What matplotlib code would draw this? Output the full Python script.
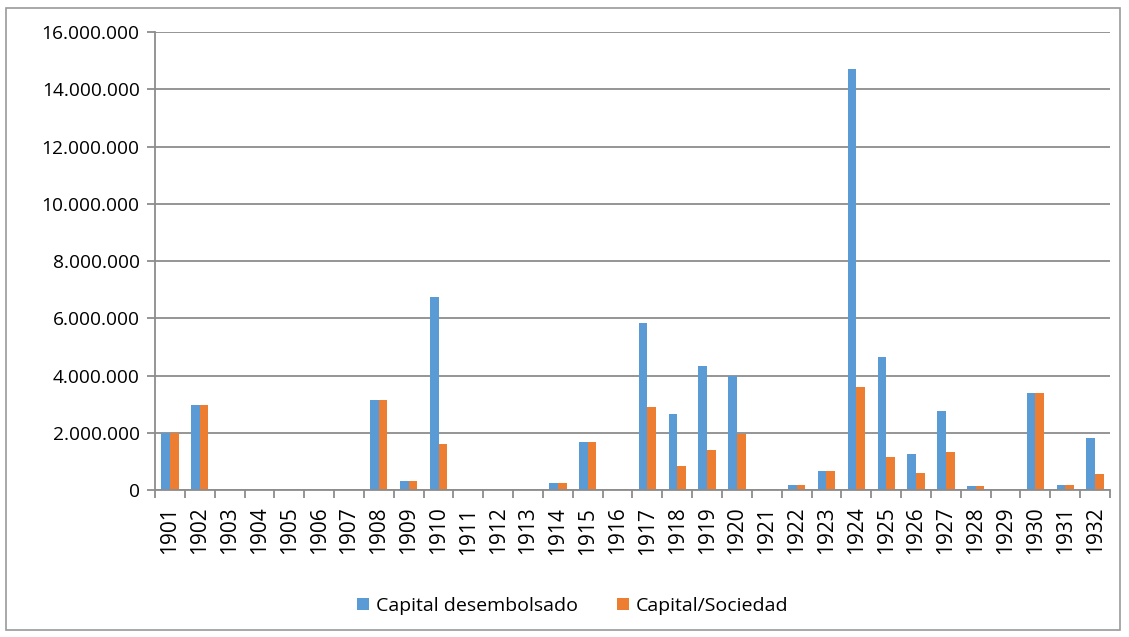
import numpy as np
import matplotlib.pyplot as plt
from matplotlib.ticker import FuncFormatter, FixedLocator
from matplotlib.patches import Rectangle

years = [str(y) for y in range(1901, 1933)]

capital_desembolsado = [
    2000000, 2970000, 0, 0, 0, 0, 0, 3150000, 310000, 6750000,
    0, 0, 0, 240000, 1690000, 0, 5850000, 2650000, 4340000, 3990000,
    0, 180000, 650000, 14720000, 4650000, 1260000, 2770000, 130000, 0, 3390000,
    170000, 1820000,
]
capital_sociedad = [
    2000000, 2970000, 0, 0, 0, 0, 0, 3150000, 310000, 1600000,
    0, 0, 0, 240000, 1690000, 0, 2900000, 840000, 1390000, 1950000,
    0, 180000, 650000, 3610000, 1140000, 600000, 1320000, 130000, 0, 3390000,
    170000, 550000,
]

plt.rcParams['font.family'] = ['Open Sans', 'DejaVu Sans']

fig = plt.figure(figsize=(11.29, 6.37), dpi=100)
ax = fig.add_axes([155 / 1129, 1 - 490 / 637, 955 / 1129, 458 / 637])

# borde exterior del grafico
fig.patches.append(Rectangle((6 / 1129, 1 - 630 / 637), 1114 / 1129, 622 / 637,
                             transform=fig.transFigure, fill=False,
                             edgecolor='#9a9a9a', linewidth=1.2))

x = np.arange(len(years))
w = 0.29
ax.bar(x - w / 2, capital_desembolsado, w, color='#5B9BD5', label='Capital desembolsado')
ax.bar(x + w / 2, capital_sociedad, w, color='#ED7D31', label='Capital/Sociedad')

ax.set_xlim(-0.5, len(years) - 0.5)
ax.set_ylim(0, 16000000)
ax.set_yticks(np.arange(0, 16000001, 2000000))
ax.yaxis.set_major_formatter(FuncFormatter(lambda v, p: f'{int(v):,}'.replace(',', '.')))
ax.grid(axis='y', color='#8c8c8c', linewidth=1.3)
ax.set_axisbelow(True)

ax.set_xticks(x)
ax.set_xticklabels(years, rotation=90)
ax.xaxis.set_minor_locator(FixedLocator(np.arange(-0.5, len(years), 1)))
ax.tick_params(axis='x', which='major', length=0, pad=12, labelsize=15)
ax.tick_params(axis='x', which='minor', length=6, width=1.3, color='#8c8c8c')
ax.tick_params(axis='y', length=6, width=1.3, color='#8c8c8c', labelsize=13.8, pad=5)

for s in ['top', 'right']:
    ax.spines[s].set_visible(False)
for s in ['left', 'bottom']:
    ax.spines[s].set_color('#8c8c8c')
    ax.spines[s].set_linewidth(1.3)

fig.legend(loc='center', bbox_to_anchor=(573 / 1129, 1 - 606 / 637), ncol=2,
           frameon=False, fontsize=14, handlelength=0.62, handleheight=0.62,
           columnspacing=2.0, handletextpad=0.36)

fig.savefig('out.png', dpi=100)
